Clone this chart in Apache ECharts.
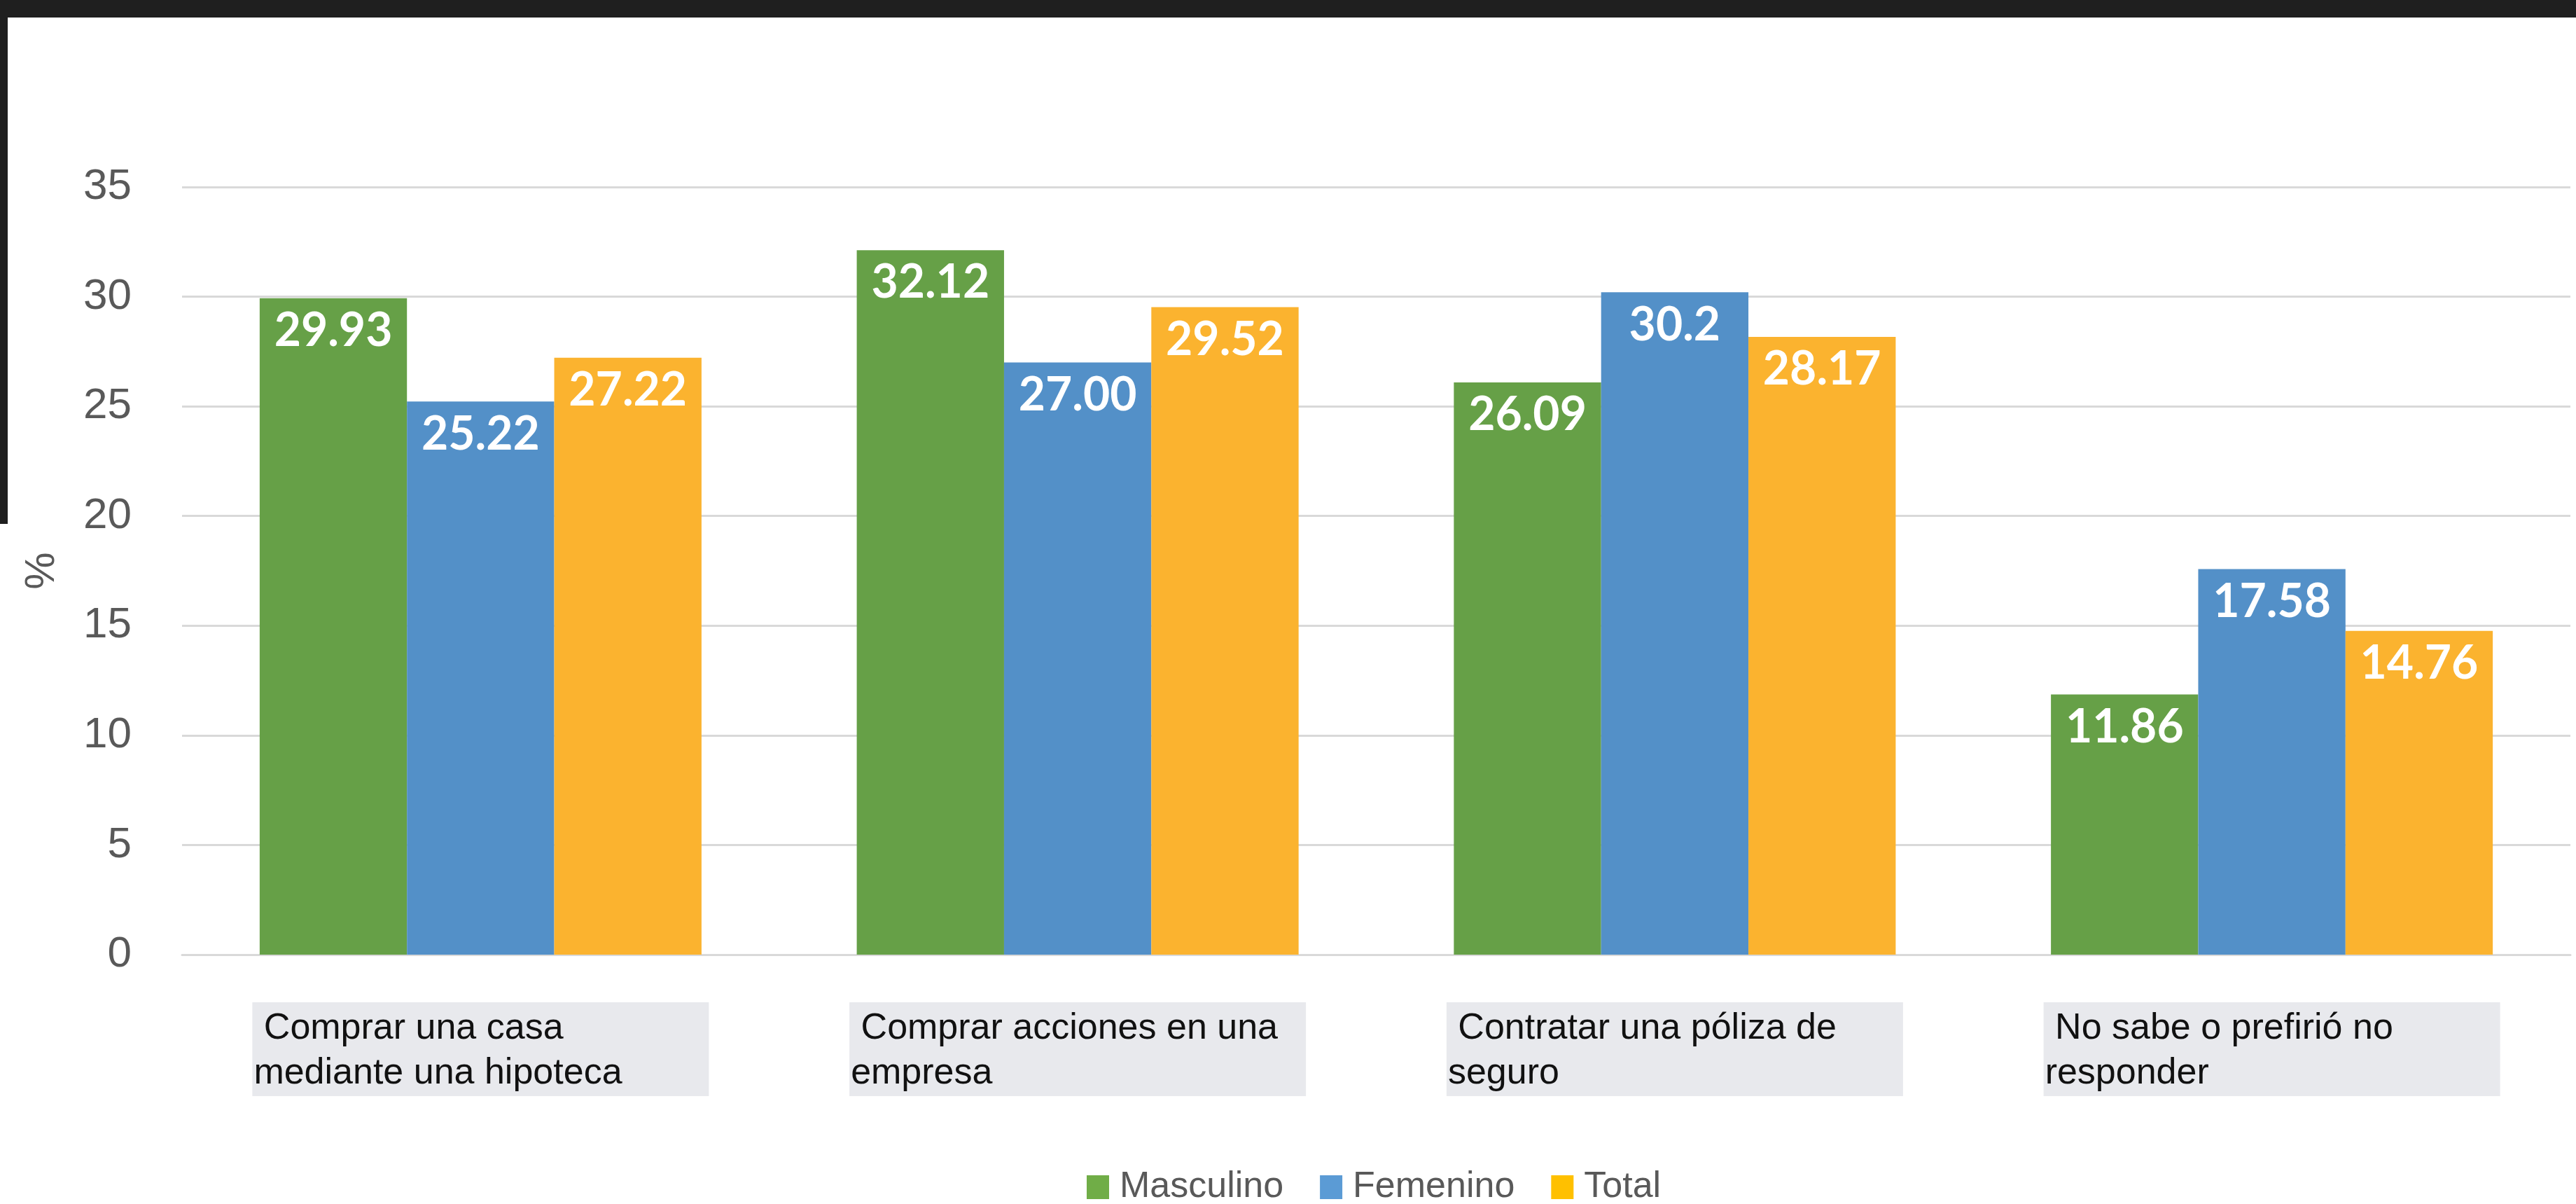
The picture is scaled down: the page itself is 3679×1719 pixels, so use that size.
<!DOCTYPE html>
<html>
<head>
<meta charset="utf-8">
<script src="https://cdn.jsdelivr.net/npm/echarts@6/dist/echarts.min.js"></script>
<style>
  html, body { margin: 0; padding: 0; background: #ffffff; }
  #chart { width: 3679px; height: 1719px; }
  .frameTop { position: absolute; left: 0; top: 0; width: 3679px; height: 25px; background: #1f1f1f; z-index: 5; }
  .frameLeft { position: absolute; left: 0; top: 0; width: 11px; height: 748px; background: #1f1f1f; z-index: 5; }
</style>
</head>
<body>
<div class="frameTop"></div>
<div class="frameLeft"></div>
<div id="chart"></div>
<script>
// ---- data ----
const categories = [
  'Comprar una casa\nmediante una hipoteca',
  'Comprar acciones en una\nempresa',
  'Contratar una póliza de\nseguro',
  'No sabe o prefirió no\nresponder'
];
const seriesNames = ['Masculino', 'Femenino', 'Total'];
const masculino = [29.93, 32.12, 26.09, 11.86];
const femenino = [25.22, 27.00, 30.2, 17.58];
const total = [27.22, 29.52, 28.17, 14.76];
const masculinoLabels = ['29.93', '32.12', '26.09', '11.86'];
const femeninoLabels = ['25.22', '27.00', '30.2', '17.58'];
const totalLabels = ['27.22', '29.52', '28.17', '14.76'];
const yMin = 0, yMax = 35, yStep = 5;
const yAxisName = '%';

// ---- styles ----
const barColors = ['#66A047', '#5390C8', '#FBB32F'];
const legendColors = ['#70AD47', '#5B9BD5', '#FFC000'];

function makeSeries(name, values, labels, color) {
  return {
    name: name,
    type: 'bar',
    data: values,
    barGap: '0%',
    barCategoryGap: '26%',
    itemStyle: { color: color },
    label: {
      show: true,
      position: 'insideTop',
      distance: 14,
      color: '#ffffff',
      fontFamily: 'Lato',
      fontWeight: 'bold',
      fontSize: 66,
      formatter: function (p) { return labels[p.dataIndex]; }
    }
  };
}

const chart = echarts.init(document.getElementById('chart'), null, { renderer: 'canvas' });
chart.setOption({
  backgroundColor: '#ffffff',
  animation: false,
  grid: { left: 260, right: 8, top: 267, bottom: 356, containLabel: false },
  legend: {
    left: 1547,
    top: 1664,
    itemWidth: 32,
    itemHeight: 34,
    itemGap: 52,
    icon: 'rect',
    textStyle: { fontFamily: 'Liberation Sans', fontSize: 52, color: '#595959', padding: [0, 0, 0, 10] },
    data: seriesNames.map(function (n, i) {
      return { name: n, itemStyle: { color: legendColors[i] } };
    })
  },
  xAxis: {
    type: 'category',
    data: categories,
    axisLine: { show: true, lineStyle: { color: '#D9D9D9', width: 3 } },
    axisTick: { show: false },
    axisLabel: {
      interval: 0,
      margin: 68,
      backgroundColor: '#E8E9ED',
      padding: [6, 10, 0, 2],
      formatter: function (v) {
        const lines = v.split('\n');
        return lines.map(function (l, i) { return '{t|' + (i === 0 ? ' ' : '') + l + '}'; }).join('\n');
      },
      rich: {
        t: {
          width: 640,
          align: 'left',
          fontFamily: 'Liberation Sans',
          fontSize: 52,
          lineHeight: 64,
          color: '#111111'
        }
      }
    }
  },
  yAxis: {
    type: 'value',
    min: yMin,
    max: yMax,
    interval: yStep,
    name: yAxisName,
    nameLocation: 'middle',
    nameRotate: 90,
    nameGap: 170,
    nameTextStyle: { fontFamily: 'Liberation Sans', fontSize: 60, color: '#595959' },
    axisLine: { show: false },
    axisTick: { show: false },
    axisLabel: { margin: 72, fontFamily: 'Liberation Sans', fontSize: 62, color: '#595959' },
    splitLine: { lineStyle: { color: '#D9D9D9', width: 3 } }
  },
  series: [
    makeSeries(seriesNames[0], masculino, masculinoLabels, barColors[0]),
    makeSeries(seriesNames[1], femenino, femeninoLabels, barColors[1]),
    makeSeries(seriesNames[2], total, totalLabels, barColors[2])
  ]
});
</script>
</body>
</html>
